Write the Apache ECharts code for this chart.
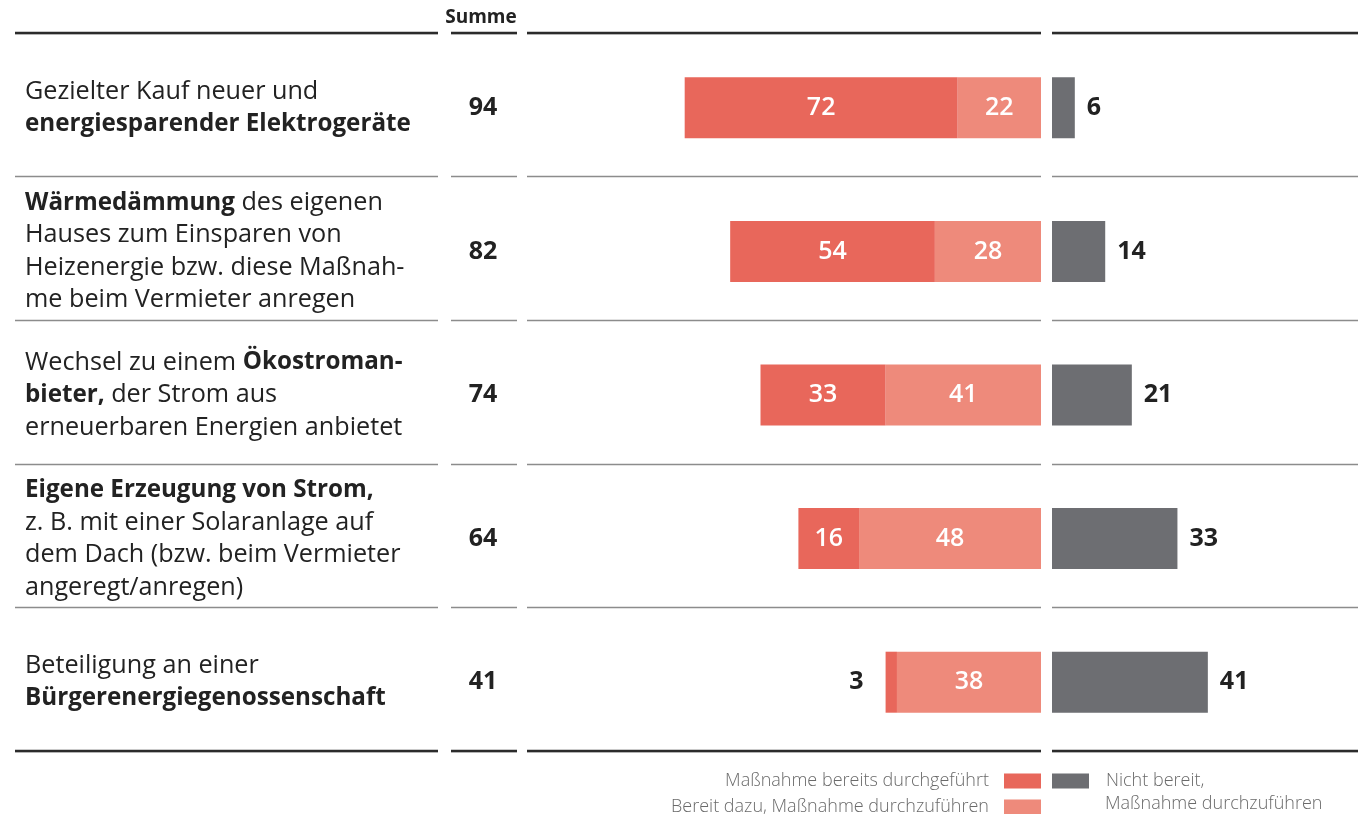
<!DOCTYPE html>
<html>
<head>
<meta charset="utf-8">
<script src="https://cdn.jsdelivr.net/npm/echarts@6/dist/echarts.min.js"></script>
<style>html,body{margin:0;padding:0;background:#fff}#c{width:1360px;height:814px}</style>
</head>
<body>
<div id="c"></div>
<script>
const categories = [
  "Gezielter Kauf neuer und\n{b|energiesparender Elektrogeräte}",
  "{b|Wärmedämmung} des eigenen\nHauses zum Einsparen von\nHeizenergie bzw. diese Maßnah-\nme beim Vermieter anregen",
  "Wechsel zu einem {b|Ökostroman-}\n{b|bieter,} der Strom aus\nerneuerbaren Energien anbietet",
  "{b|Eigene Erzeugung von Strom,}\nz. B. mit einer Solaranlage auf\ndem Dach (bzw. beim Vermieter\nangeregt/anregen)",
  "Beteiligung an einer\n{b|Bürgerenergiegenossenschaft}"
];
const sums = [94, 82, 74, 64, 41];
const doneVals = [72, 54, 33, 16, 3];
const readyVals = [22, 28, 41, 48, 38];
const notVals = [6, 14, 21, 33, 41];
const seriesNames = ["Maßnahme bereits durchgeführt", "Bereit dazu, Maßnahme durchzuführen", "Nicht bereit, Maßnahme durchzuführen"];

const FONT = "Open Sans";
const NUMFONT = "Open Sans";
const TOP = 33, HEIGHT = 718, SHIFT = 3;
const cols = [[15, 423], [451, 66], [527, 514], [1052, 306]];
// separator grids (0-3) and content grids (4-7)
const grids = cols.map(c => ({ left: c[0], width: c[1], top: TOP, height: HEIGHT }))
  .concat(cols.map(c => ({ left: c[0], width: c[1], top: TOP + SHIFT, height: HEIGHT })));

const splitLine = { show: true, lineStyle: { color: '#8c8c8c', width: 1.3 } };
const yAxes = grids.map((g, i) => ({
  type: 'category', gridIndex: i, data: categories, inverse: true,
  axisLine: { show: false }, axisTick: { show: false },
  axisLabel: { show: false }, splitLine: i < 4 ? splitLine : { show: false }
}));
yAxes[4].axisLabel = {
  show: true, align: 'left', margin: -10, color: '#222', fontFamily: FONT,
  fontSize: 25.2, lineHeight: 32.5,
  rich: { b: { fontWeight: 'bold', fontSize: 24.2, lineHeight: 32.5, color: '#222', fontFamily: FONT } }
};
yAxes[5].axisLabel = {
  show: true, align: 'center', margin: -32, color: '#222', fontFamily: NUMFONT,
  fontSize: 25, fontWeight: 'bold',
  formatter: (v, i) => String(sums[i])
};

const xAxes = grids.map((g, i) => ({ type: 'value', gridIndex: i, show: false, min: 0, max: 1 }));
xAxes[6] = { type: 'value', gridIndex: 6, show: false, min: 0, max: 135.6, inverse: true };
xAxes[7] = { type: 'value', gridIndex: 7, show: false, min: 0, max: 80.5 };

const inLabel = { show: true, position: 'inside', color: '#fff', fontFamily: NUMFONT, fontSize: 25, fontWeight: 600 };
const outLabel = { show: true, position: 'left', distance: 22, color: '#222', fontFamily: NUMFONT, fontSize: 25, fontWeight: 'bold' };

const thick = [];
cols.forEach(c => {
  [TOP, TOP + HEIGHT].forEach(y => {
    thick.push({ type: 'rect', shape: { x: c[0], y: y - 1.3, width: c[1], height: 2.6 }, style: { fill: '#2b2b2b' }, z: 10 });
  });
});

const legendText = { color: '#6a6a6a', fontFamily: FONT, fontSize: 18, fontWeight: 300, lineHeight: 16 };

const chart = echarts.init(document.getElementById('c'), null, { renderer: 'canvas' });
chart.setOption({
  animation: false,
  grid: grids,
  xAxis: xAxes,
  yAxis: yAxes,
  legend: [
    {
      data: [seriesNames[0], seriesNames[1]], orient: 'vertical', align: 'right',
      right: 319, top: 772, height: 80, itemWidth: 37, itemHeight: 15, itemGap: 8, padding: 0,
      icon: 'rect', selectedMode: false,
      textStyle: Object.assign({}, legendText, { padding: [0, 10, 0, 0] })
    },
    {
      data: [seriesNames[2]], orient: 'vertical', align: 'left',
      left: 1052, top: 772, height: 80, itemWidth: 37, itemHeight: 15, padding: 0,
      icon: 'rect', selectedMode: false,
      formatter: () => 'Nicht bereit,',
      textStyle: Object.assign({}, legendText, { padding: [0, 0, 0, 12] })
    }
  ],
  graphic: thick.concat([
    { type: 'text', x: 481, y: 18, style: { text: 'Summe', fill: '#222', font: 'bold 19px ' + FONT, textAlign: 'center', textVerticalAlign: 'middle' } },
    { type: 'text', x: 1105, y: 804, style: { text: 'Maßnahme durchzuführen', fill: '#6a6a6a', font: '300 18px ' + FONT, textAlign: 'left', textVerticalAlign: 'middle' } }
  ]),
  series: [
    {
      name: seriesNames[1], type: 'bar', stack: 'left', xAxisIndex: 6, yAxisIndex: 6,
      barWidth: 61, itemStyle: { color: '#EE8A7B' }, label: inLabel, data: readyVals
    },
    {
      name: seriesNames[0], type: 'bar', stack: 'left', xAxisIndex: 6, yAxisIndex: 6,
      barWidth: 61, itemStyle: { color: '#E8675B' }, label: inLabel,
      data: doneVals.map(v => v < 8 ? { value: v, label: outLabel } : v)
    },
    {
      name: seriesNames[2], type: 'bar', xAxisIndex: 7, yAxisIndex: 7,
      barWidth: 61, itemStyle: { color: '#6D6E72' },
      label: { show: true, position: 'right', distance: 12, color: '#222', fontFamily: NUMFONT, fontSize: 25, fontWeight: 'bold' },
      data: notVals
    }
  ]
});
</script>
</body>
</html>
